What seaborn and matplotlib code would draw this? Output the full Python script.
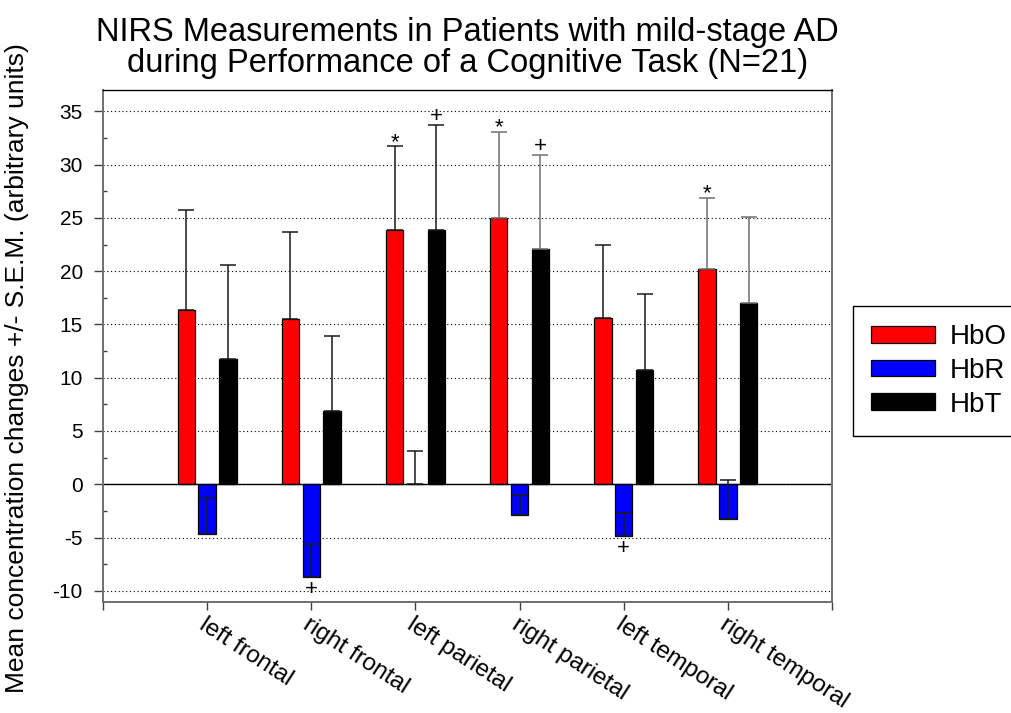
import matplotlib
matplotlib.use("Agg")
import matplotlib.pyplot as plt
from matplotlib.ticker import MultipleLocator
import numpy as np
import pandas as pd
import seaborn as sns

# Cortical regions and NIRS signals
regions = ["left frontal", "right frontal", "left parietal",
           "right parietal", "left temporal", "right temporal"]
signals = ["HbO", "HbR", "HbT"]

# Mean concentration changes (arbitrary units)
hbo = [16.4, 15.5, 23.9, 25.0, 15.6, 20.2]
hbr = [-4.7, -8.7, 0.0, -2.9, -4.9, -3.3]
hbt = [11.8, 6.9, 23.9, 22.1, 10.7, 17.0]

# Standard errors of the mean
hbo_sem = [9.3, 8.2, 7.8, 8.1, 6.9, 6.7]
hbr_sem = [3.4, 3.1, 3.1, 1.9, 2.2, 3.7]
hbt_sem = [8.8, 7.0, 9.8, 8.8, 7.2, 8.1]

# Significance marks
hbo_sig = ["", "", "*", "*", "", "*"]
hbr_sig = ["", "+", "", "", "+", ""]
hbt_sig = ["", "", "+", "+", "", ""]

means = {"HbO": hbo, "HbR": hbr, "HbT": hbt}
sems = {"HbO": hbo_sem, "HbR": hbr_sem, "HbT": hbt_sem}
sigs = {"HbO": hbo_sig, "HbR": hbr_sig, "HbT": hbt_sig}

df = pd.DataFrame({
    "region": np.repeat([regions], 3, axis=0).ravel(),
    "signal": np.repeat(signals, len(regions)),
    "value": hbo + hbr + hbt,
})

palette = {"HbO": "#ff0000", "HbR": "#0000ff", "HbT": "#000000"}
err_colors = {"HbO": ["k", "k", "k", "#707070", "k", "#707070"],
              "HbR": ["k"] * 6,
              "HbT": ["k", "k", "k", "#707070", "k", "#707070"]}

sns.set_theme(style="white")
plt.rcParams["font.family"] = ["Liberation Sans", "DejaVu Sans"]
plt.rcParams["axes.unicode_minus"] = False
plt.rcParams["text.color"] = "black"
plt.rcParams["axes.labelcolor"] = "black"
plt.rcParams["xtick.labelcolor"] = "black"
plt.rcParams["ytick.labelcolor"] = "black"

fig = plt.figure(figsize=(10.12, 7.13), dpi=100)
ax = fig.add_axes([103 / 1012, 1 - 601.5 / 713, 729 / 1012, 511.5 / 713])

sns.barplot(data=df, x="region", y="value", hue="signal", order=regions,
            hue_order=signals, palette=palette, width=0.6, gap=0.17,
            errorbar=None, edgecolor="black", linewidth=0.9, saturation=1,
            ax=ax, zorder=2)

# One-sided (+) error bars and significance marks
for cont, sig_name in zip(ax.containers, signals):
    vals, errs, marks = means[sig_name], sems[sig_name], sigs[sig_name]
    for bar, v, e, m, c in zip(cont, vals, errs, marks, err_colors[sig_name]):
        xc = bar.get_x() + bar.get_width() / 2
        ax.errorbar([xc], [v], yerr=[[0], [e]], fmt="none", ecolor=c,
                    elinewidth=1.1, capsize=5.6, capthick=1.1, zorder=3)
        if not m:
            continue
        if v >= 0:
            off = 3 if m == "*" else 6
            ax.annotate(m, (xc, v + e), xytext=(0, off), textcoords="offset points",
                        ha="center", va="center", fontsize=16, color="black")
        else:
            ax.annotate(m, (xc, v), xytext=(0, -9), textcoords="offset points",
                        ha="center", va="center", fontsize=16, color="black")

ax.axhline(0, color="black", lw=1.0, zorder=2.5)

# Axes limits and ticks
ax.set_xlim(-1, 6)
ax.set_ylim(-11, 37)
ax.set_xticks(range(-1, 7))
ax.set_xticklabels([""] + regions + [""], rotation=-33, ha="left", va="top",
                   rotation_mode="anchor", fontsize=17.5, color="black")
ax.yaxis.set_major_locator(MultipleLocator(5))
ax.yaxis.set_minor_locator(MultipleLocator(2.5))
ax.tick_params(axis="y", which="major", direction="out", length=6.5, width=1,
               color="#404040", labelcolor="black", labelsize=15, pad=8, left=True)
ax.tick_params(axis="y", which="minor", direction="in", length=3, width=1,
               color="#404040", left=True)
ax.tick_params(axis="x", which="major", direction="out", length=6, width=1,
               color="#404040", labelcolor="black", pad=3, bottom=True)

ax.set_axisbelow(True)
ax.yaxis.grid(True, which="major", color="black", linestyle=(0, (1, 2.4)), lw=0.8)
ax.xaxis.grid(False)

for side in ["left", "right", "bottom"]:
    ax.spines[side].set_color("#707070")
    ax.spines[side].set_linewidth(1.4)
ax.spines["top"].set_color("black")
ax.spines["top"].set_linewidth(1.0)

ax.set_xlabel("")
ax.set_ylabel("Mean concentration changes +/- S.E.M. (arbitrary units)",
              fontsize=19, color="black")
ax.yaxis.set_label_coords(-0.101, 0.456)

ax.set_title("NIRS Measurements in Patients with mild-stage AD\n"
             "during Performance of a Cognitive Task (N=21)",
             fontsize=23.5, pad=13, linespacing=1.0, color="black")

# Legend on the right side of the figure
handles, labels = ax.get_legend_handles_labels()
ax.get_legend().remove()
leg = ax.legend(handles, labels, loc="upper left",
                bbox_to_anchor=(853 / 1012, 1 - 306 / 713),
                bbox_transform=fig.transFigure, borderaxespad=0,
                frameon=True, fancybox=False, framealpha=1, edgecolor="black",
                fontsize=20, handlelength=2.3, handleheight=0.55,
                handletextpad=0.55, labelspacing=0.28, borderpad=0.65)
leg.get_frame().set_linewidth(1.0)
for t in leg.get_texts():
    t.set_color("black")

fig.savefig("out.png", dpi=100)
